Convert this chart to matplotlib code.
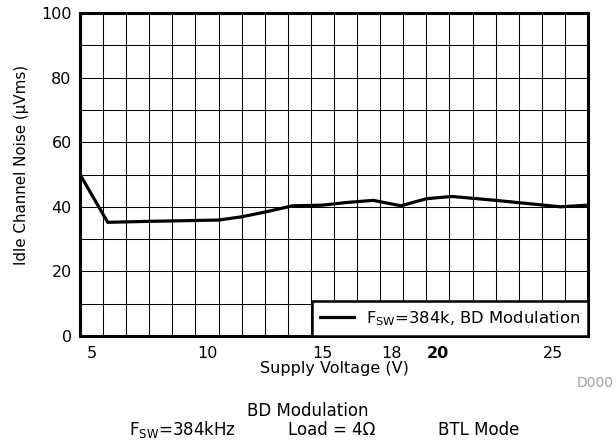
import numpy as np
import matplotlib
matplotlib.use("Agg")
import matplotlib.pyplot as plt

plt.rcParams['font.family'] = ['DejaVu Sans']
plt.rcParams['mathtext.fontset'] = 'dejavusans'

# data
voltage = [4.5, 5.7, 7.5, 9.0, 10.5, 11.5, 12.6, 13.7, 15.0, 16.0, 17.2, 18.4, 19.5, 20.6, 22.5, 25.3, 26.5]
noise = [50.0, 35.2, 35.5, 35.7, 35.9, 36.9, 38.5, 40.3, 40.5, 41.3, 42.0, 40.3, 42.5, 43.2, 42.0, 40.0, 40.5]

xticks = [5, 10, 15, 18, 20, 25]
yticks = [0, 20, 40, 60, 80, 100]
series_label = r'F$_{\mathregular{SW}}$=384k, BD Modulation'

fig = plt.figure(figsize=(6.16, 4.42), dpi=100)
ax = fig.add_axes([80 / 616, 1 - 336 / 442, 508 / 616, 323 / 442])

ax.plot(voltage, noise, color='black', lw=2.3, label=series_label, zorder=3)

ax.set_xlim(4.5, 26.5)
ax.set_ylim(0, 100)
ax.set_xticks(xticks)
ax.set_xticklabels([str(t) for t in xticks])
ax.set_xticks(np.arange(5.5, 26, 1), minor=True)
ax.set_yticks(yticks)
ax.set_yticks(np.arange(10, 100, 10), minor=True)
for lab in ax.get_xticklabels():
    if lab.get_text() == '20':
        lab.set_fontweight('bold')

ax.grid(True, which='both', color='black', lw=0.75)
ax.grid(False, which='major', axis='x')
ax.tick_params(which='both', length=0, labelsize=11.5)
ax.tick_params(axis='x', pad=7)
ax.tick_params(axis='y', pad=6)
for s in ax.spines.values():
    s.set_linewidth(2.2)

ax.set_xlabel('Supply Voltage (V)', fontsize=11.5, labelpad=0)
ax.set_ylabel('Idle Channel Noise (\u03bcVms)', fontsize=10.9)
ax.yaxis.set_label_coords(-0.1, 0.53)

leg = ax.legend(loc='lower right', bbox_to_anchor=(1, 0), borderaxespad=0,
                fancybox=False, framealpha=1, edgecolor='black', fontsize=11.8,
                handlelength=2.1, handletextpad=0.7, borderpad=0.5)
leg.get_frame().set_linewidth(1.8)
leg.set_zorder(5)

fig.text(614 / 616, 1 - 383 / 442, 'D000', color='#a0a0a0', fontsize=10, va='center', ha='right')
fig.text(308 / 616, 1 - 411 / 442, 'BD Modulation', fontsize=12, ha='center', va='center')
fig.text(129 / 616, 1 - 430 / 442, r'F$_{\mathregular{SW}}$=384kHz', fontsize=12, ha='left', va='center')
fig.text(288 / 616, 1 - 430 / 442, 'Load = 4\u03a9', fontsize=12, ha='left', va='center')
fig.text(438 / 616, 1 - 430 / 442, 'BTL Mode', fontsize=12, ha='left', va='center')

fig.savefig('out.png', dpi=100)
